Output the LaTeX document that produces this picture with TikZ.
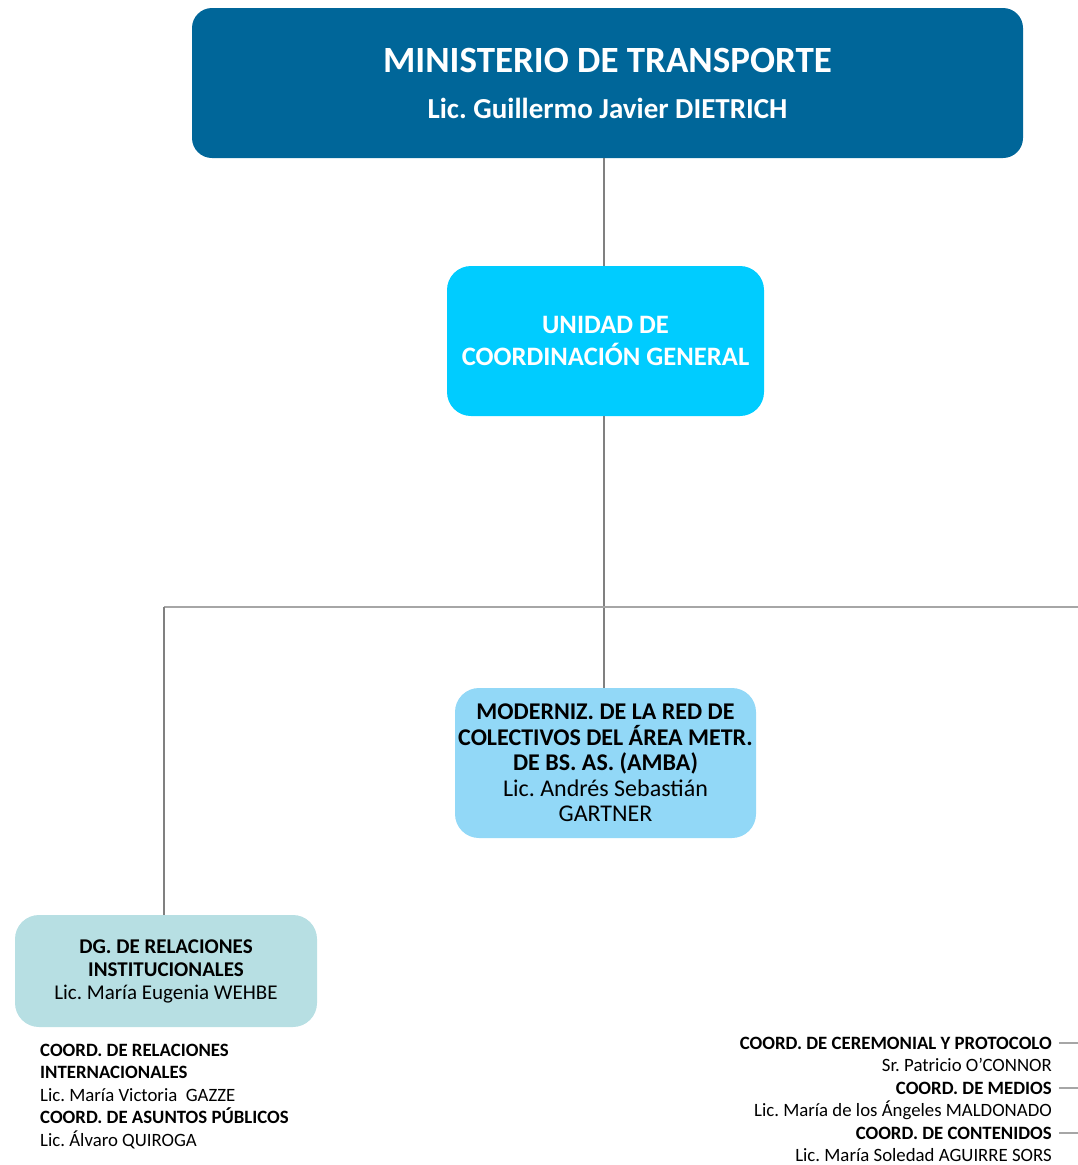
\documentclass[tikz,border=0pt]{standalone}
\usepackage{fontspec}
\setmainfont{Carlito}
\usepackage{xcolor}
\usepackage{tikz}
\usetikzlibrary{positioning, calc}
\definecolor{ministryblue}{HTML}{006699}
\definecolor{unitcyan}{HTML}{00CCFF}
\definecolor{ambablue}{HTML}{92D8F7}
\definecolor{relteal}{HTML}{B7DFE3}
\definecolor{linegray}{HTML}{808080}
\definecolor{linelight}{HTML}{A6A6A6}
\frenchspacing

\begin{document}
\begin{tikzpicture}[
    x=1pt, y=-1pt,
    line_org/.style={draw=linegray, line width=1.8pt},
    line_bar/.style={draw=linelight, line width=1.8pt},
    line_tick/.style={draw=linelight, line width=1.2pt},
    box_org/.style={rounded corners=24pt, align=center, inner sep=0pt},
    text_coord/.style={inner sep=0pt, font=\fontsize{18.8}{22.4}\selectfont}
]
\useasboundingbox (0,0) rectangle (1078,1165);
\node[box_org, rounded corners=20pt, fill=ministryblue, text=white,
      minimum width=831pt, minimum height=150pt,
      font=\fontsize{37}{46}\selectfont\bfseries] (M) at (607.5,83)
    {MINISTERIO DE TRANSPORTE\\
     \fontsize{29}{46}\selectfont Lic. Guillermo Javier DIETRICH};
\node[box_org, fill=unitcyan, text=white, minimum width=317pt, minimum height=150pt,
      font=\fontsize{26.6}{32}\selectfont\bfseries] (U) at (605.5,341)
    {UNIDAD DE\\COORDINACIÓN GENERAL};
\node[box_org, fill=ambablue, minimum width=301pt, minimum height=150pt,
      font=\fontsize{24}{25.5}\selectfont] (A) at (605.5,763)
    {\textbf{MODERNIZ. DE LA RED DE}\\\textbf{COLECTIVOS DEL ÁREA METR.}\\
     \textbf{DE BS. AS. (AMBA)}\\Lic. Andrés Sebastián\\GARTNER};
\node[box_org, fill=relteal, minimum width=302pt, minimum height=112pt,
      font=\fontsize{21}{23}\selectfont] (R) at (166,971)
    {\textbf{DG. DE RELACIONES}\\\textbf{INSTITUCIONALES}\\Lic. María Eugenia WEHBE};

\coordinate (J) at (604,607);
\coordinate (JL) at (164,607);
\coordinate (JR) at (1078,607);
\draw[line_org] (M.south -| J) -- (U.north -| J);
\draw[line_org] (U.south -| J) -- (A.north -| J);
\draw[line_bar] (JL) -- (JR);
\draw[line_org] (JL) -- (R.north -| JL);

\node[text_coord, align=left, anchor=north west] (RI) at (40,1044)
    {\textbf{COORD. DE RELACIONES}\\\textbf{INTERNACIONALES}\\Lic. María Victoria\ \ GAZZE\\
     \textbf{COORD. DE ASUNTOS PÚBLICOS}\\Lic. Álvaro QUIROGA};

\node[text_coord, anchor=base east, font=\fontsize{18.8}{22.4}\selectfont\bfseries] (CP) at (1052,1049) {COORD. DE CEREMONIAL Y PROTOCOLO};
\node[text_coord, anchor=base east] (CPn) at (1052,1071.5) {Sr. Patricio O’CONNOR};
\node[text_coord, anchor=base east, font=\fontsize{18.8}{22.4}\selectfont\bfseries] (CM) at (1052,1094) {COORD. DE MEDIOS};
\node[text_coord, anchor=base east] (CMn) at (1052,1116.5) {Lic. María de los Ángeles MALDONADO};
\node[text_coord, anchor=base east, font=\fontsize{18.8}{22.4}\selectfont\bfseries] (CC) at (1052,1139) {COORD. DE CONTENIDOS};
\node[text_coord, anchor=base east] (CCn) at (1052,1161.5) {Lic. María Soledad AGUIRRE SORS};
\draw[line_tick] ([xshift=7pt]CP.east) -- (CP.east -| JR);
\draw[line_tick] ([xshift=7pt]CM.east) -- (CM.east -| JR);
\draw[line_tick] ([xshift=7pt]CC.east) -- (CC.east -| JR);
\end{tikzpicture}
\end{document}
